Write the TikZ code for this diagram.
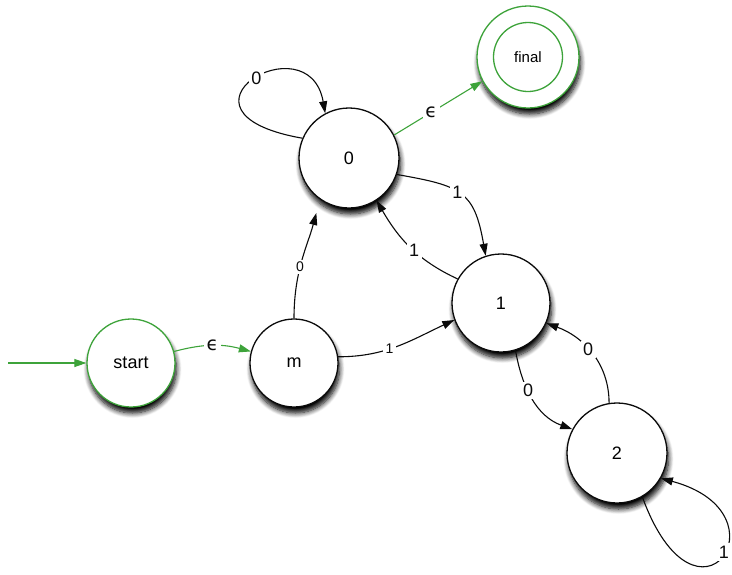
\documentclass[tikz,border=0pt]{standalone}
\usepackage{fontspec}
\setmainfont{Liberation Sans}
\newfontfamily\symfont{DejaVu Sans}
\usetikzlibrary{arrows.meta,shadows.blur}
\definecolor{accgreen}{HTML}{3DA33A}
\definecolor{ink}{HTML}{0B0B0B}

\begin{document}
\begin{tikzpicture}[x=1pt,y=1pt,
  state/.style={circle,draw=ink,line width=1.3pt,fill=white,minimum size=100pt,inner sep=0pt,
    font=\fontsize{18}{20}\selectfont,
    blur shadow={shadow xshift=1.5pt,shadow yshift=-6pt,shadow blur radius=5pt,shadow blur steps=8,shadow opacity=100}},
  small state/.style={state,minimum size=88pt},
  line/.style={ink,line width=1.1pt,-{Triangle[length=12pt,width=8pt]}},
  gline/.style={line,accgreen},
  lbl/.style={fill=white,text=ink,inner sep=2.5pt,font=\fontsize{18}{20}\selectfont},
  small/.style={font=\fontsize{14}{16}\selectfont},
  eps/.style={lbl,font=\symfont\fontsize{19}{20}\selectfont}]
  \useasboundingbox (0,0) rectangle (732,-574);
  \clip (0,0) rectangle (732,-574);
  % states
  \node[small state,draw=accgreen] (start) at (131,-363) {start};
  \node[small state] (m) at (294,-363) {m};
  \node[state] (q0) at (349,-158) {0};
  \node[state,minimum size=98pt] (q1) at (501,-303) {1};
  \node[state] (q2) at (617,-453) {2};
  \node[state,draw=accgreen,minimum size=102pt] (final) at (528,-57) {};
  \node[circle,draw=accgreen,line width=1.3pt,minimum size=69pt,inner sep=0pt,font=\fontsize{15}{16}\selectfont] (finalin) at (final) {final};
  \coordinate (entry) at (8,-363);
  % transitions
  \draw[gline] (entry) -- (start);
  \draw[gline] (start.15) to[bend left=15] node[eps]{ϵ} (m.165);
  \draw[gline] (q0.27) -- node[eps,pos=.42]{ϵ} (final.208);
  \draw[line,shorten >=14pt] (m.north) to[out=90,in=-105] node[lbl,small,pos=.42]{0} (q0.235);
  \draw[line] (q0.157) .. controls +(170:150) and +(100:95) .. node[lbl,pos=.53]{0} (q0.118);
  \draw[line] (q0.-19) to[out=-10,in=100,looseness=1.4] node[lbl,pos=.45]{1} (q1.108);
  \draw[line] (q1.151) to[out=155,in=-60] node[lbl,pos=.45]{1} (q0.-57);
  \draw[line] (m.8) to[out=0,in=205] node[lbl,small,pos=.42]{1} (q1.200);
  \draw[line] (q1.-73) to[out=-80,in=160] node[lbl,pos=.4]{0} (q2.152);
  \draw[line] (q2.99) to[out=90,in=-20] node[lbl,pos=.55]{0} (q1.-24);
  \draw[line] (q2.-60) .. controls +(-70:160) and +(-15:135) .. node[lbl,pos=.54]{1} (q2.-30);
\end{tikzpicture}
\end{document}
